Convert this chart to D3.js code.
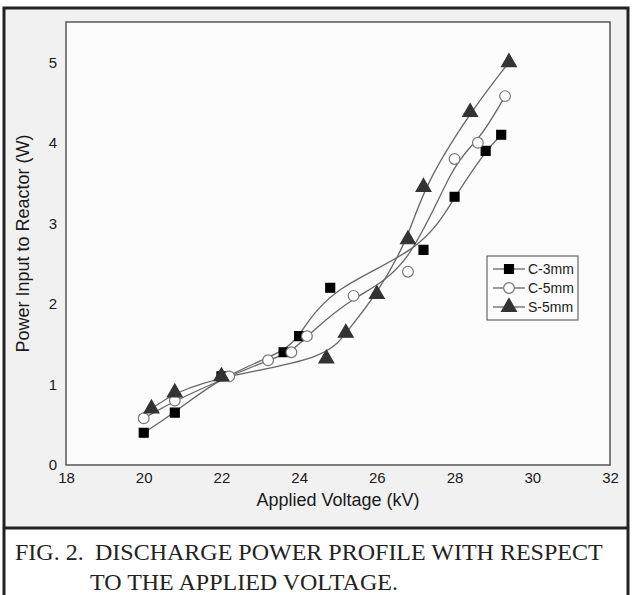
<!DOCTYPE html>
<html>
<head>
<meta charset="utf-8">
<script src="https://cdn.jsdelivr.net/npm/d3@7"></script>
<style>
  body { margin: 0; background: #fff; }
  svg { display: block; }
</style>
</head>
<body>
<div id="container"></div>
<script>
/* DATA */
const seriesNames = ["C-3mm", "C-5mm", "S-5mm"];

const c3Voltage = [20.0, 20.8, 22.0, 23.6, 24.0, 24.8, 27.2, 28.0, 28.8, 29.2];
const c3Power   = [0.40, 0.65, 1.10, 1.40, 1.60, 2.20, 2.67, 3.33, 3.90, 4.10];

const c5Voltage = [20.0, 20.8, 22.2, 23.2, 23.8, 24.2, 25.4, 26.8, 28.0, 28.6, 29.3];
const c5Power   = [0.58, 0.80, 1.10, 1.30, 1.40, 1.60, 2.10, 2.40, 3.80, 4.00, 4.58];

const s5Voltage = [20.2, 20.8, 22.0, 24.7, 25.2, 26.0, 26.8, 27.2, 28.4, 29.4];
const s5Power   = [0.70, 0.90, 1.10, 1.32, 1.64, 2.12, 2.80, 3.45, 4.38, 5.00];

const xTicks = [18, 20, 22, 24, 26, 28, 30, 32];
const yTicks = [0, 1, 2, 3, 4, 5];

const captionLines = ["FIG. 2.", "DISCHARGE POWER PROFILE WITH RESPECT", "TO THE APPLIED VOLTAGE."];

/* LAYOUT */
const width = 632, height = 595;
const margin = {top: 22, right: 22, bottom: 130, left: 66};

const svg = d3.select("#container")
  .append("svg")
  .attr("width", width)
  .attr("height", height);

// gray chart background
svg.append("rect")
  .attr("x", 4).attr("y", 8)
  .attr("width", 624).attr("height", 520)
  .attr("fill", "#f1f1f1");

const xScale = d3.scaleLinear()
  .domain([18, 32])
  .range([margin.left, width - margin.right]);

const yScale = d3.scaleLinear()
  .domain([0, 5.5])
  .range([height - margin.bottom, margin.top]);

svg.append("rect")
  .attr("x", xScale(18)).attr("y", yScale(5.5))
  .attr("width", xScale(32) - xScale(18))
  .attr("height", yScale(0) - yScale(5.5))
  .attr("fill", "#fcfcfc")
  .attr("stroke", "#555")
  .attr("stroke-width", 1.5);

// axes
svg.append("g")
  .attr("transform", `translate(0,${yScale(0)})`)
  .call(d3.axisBottom(xScale).tickValues(xTicks).tickSize(0).tickPadding(7).tickFormat(d3.format("d")))
  .call(g => g.select(".domain").remove());

svg.append("g")
  .attr("transform", `translate(${xScale(18)},0)`)
  .call(d3.axisLeft(yScale).tickValues(yTicks).tickSize(0).tickPadding(9).tickFormat(d3.format("d")))
  .call(g => g.select(".domain").remove());

svg.selectAll(".tick text")
  .attr("font-family", "Liberation Sans, Arial, sans-serif")
  .attr("font-size", 15)
  .attr("fill", "#1a1a1a");

svg.append("text")
  .attr("x", (xScale(18) + xScale(32)) / 2)
  .attr("y", 506)
  .attr("text-anchor", "middle")
  .attr("font-family", "Liberation Sans, Arial, sans-serif")
  .attr("font-size", 18)
  .attr("fill", "#1a1a1a")
  .text("Applied Voltage (kV)");

svg.append("text")
  .attr("transform", `translate(29,${(yScale(0) + yScale(5.5)) / 2}) rotate(-90)`)
  .attr("text-anchor", "middle")
  .attr("font-family", "Liberation Sans, Arial, sans-serif")
  .attr("font-size", 18)
  .attr("fill", "#1a1a1a")
  .text("Power Input to Reactor (W)");

const series = [
  {name: seriesNames[0], xs: c3Voltage, ys: c3Power, symbol: d3.symbolSquare, size: 80, fill: "#000", stroke: "#000"},
  {name: seriesNames[1], xs: c5Voltage, ys: c5Power, symbol: d3.symbolCircle, size: 90, fill: "#fff", stroke: "#777"},
  {name: seriesNames[2], xs: s5Voltage, ys: s5Power, symbol: d3.symbolTriangle, size: 95, fill: "#333", stroke: "#333"}
];

// smoothed curve through the points (b-spline)
const line = d3.line()
  .x(d => xScale(d[0]))
  .y(d => yScale(d[1]))
  .curve(d3.curveBasis);

series.forEach(s => {
  svg.append("path")
    .datum(s.xs.map((x, i) => [x, s.ys[i]]))
    .attr("fill", "none")
    .attr("stroke", "#666")
    .attr("stroke-width", 1.3)
    .attr("d", line);
});

series.forEach(s => {
  svg.append("g")
    .selectAll("path")
    .data(s.xs.map((x, i) => [x, s.ys[i]]))
    .join("path")
    .attr("transform", d => `translate(${xScale(d[0])},${yScale(d[1])})`)
    .attr("d", d3.symbol().type(s.symbol).size(s.size))
    .attr("fill", s.fill)
    .attr("stroke", s.stroke)
    .attr("stroke-width", 1.2);
});

// legend
const legend = svg.append("g").attr("transform", "translate(487,256)");
legend.append("rect")
  .attr("width", 91).attr("height", 64)
  .attr("fill", "#fcfcfc")
  .attr("stroke", "#666")
  .attr("stroke-width", 1.2);

series.forEach((s, i) => {
  const ly = 13 + i * 19;
  legend.append("line")
    .attr("x1", 6).attr("x2", 38)
    .attr("y1", ly).attr("y2", ly)
    .attr("stroke", "#666").attr("stroke-width", 1.3);
  legend.append("path")
    .attr("transform", `translate(22,${ly})`)
    .attr("d", d3.symbol().type(s.symbol).size(s.size))
    .attr("fill", s.fill)
    .attr("stroke", s.stroke)
    .attr("stroke-width", 1.2);
  legend.append("text")
    .attr("x", 41).attr("y", ly + 5)
    .attr("font-family", "Liberation Sans, Arial, sans-serif")
    .attr("font-size", 14)
    .attr("fill", "#1a1a1a")
    .text(s.name);
});

// frame and caption
svg.append("rect")
  .attr("x", 4).attr("y", 8)
  .attr("width", 624).attr("height", 600)
  .attr("fill", "none")
  .attr("stroke", "#222")
  .attr("stroke-width", 3);

svg.append("line")
  .attr("x1", 4).attr("x2", 628)
  .attr("y1", 528).attr("y2", 528)
  .attr("stroke", "#222")
  .attr("stroke-width", 3);

const captionFont = "Liberation Serif, Times New Roman, serif";
[[15, 560, captionLines[0]], [95, 560, captionLines[1]], [90, 590, captionLines[2]]].forEach(([x, y, t]) => {
  svg.append("text")
    .attr("x", x).attr("y", y)
    .attr("font-family", captionFont)
    .attr("font-size", 24)
    .attr("fill", "#222")
    .text(t);
});
</script>
</body>
</html>
